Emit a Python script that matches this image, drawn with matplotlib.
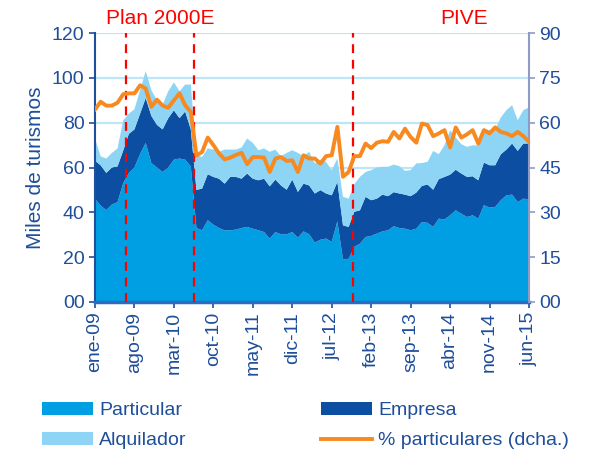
import numpy as np
import matplotlib
matplotlib.use("Agg")
import matplotlib.pyplot as plt
from matplotlib.patches import Patch
from matplotlib.lines import Line2D
import matplotlib.transforms as mtransforms

plt.rcParams['font.family'] = ['Liberation Sans', 'DejaVu Sans']

tick_labels = ['ene-09', 'ago-09', 'mar-10', 'oct-10', 'may-11', 'dic-11',
               'jul-12', 'feb-13', 'sep-13', 'abr-14', 'nov-14', 'jun-15']

particular = [46, 43, 41, 43.5, 44.5, 53, 57.5, 60, 66, 71,
              62, 60, 58, 60, 63.5, 64, 63.5, 60.5, 33, 32,
              36.5, 34.5, 33, 32, 32, 32.3, 33, 33.5, 32.7, 32,
              31.2, 28.3, 31.2, 30.2, 30.2, 31.2, 28.7, 31.5, 30.2, 26.5,
              27.8, 28.3, 26.8, 36, 19, 19.3, 24.6, 26, 29, 29.5,
              30.5, 31.5, 32, 33.8, 33, 32.7, 32, 32.7, 35.7, 35.3,
              33.5, 37.2, 36.8, 38.7, 40.9, 39.4, 37.9, 38.7, 37.2, 43.2,
              42.1, 42.4, 45.4, 47.6, 47.9, 44.6, 46.1, 45.8]

empresa = [17, 18, 16.6, 16.5, 16, 14.5, 17.5, 17, 18, 20,
           21, 19, 19, 22, 22, 18, 21.5, 16.5, 17, 18.6,
           20.5, 21.3, 22, 20.8, 23.8, 23.5, 22, 23.8, 22.3, 22.3,
           23.8, 23.3, 23.4, 21.8, 19.9, 23.4, 20.4, 21.3, 21.8, 21.9,
           22.1, 20.1, 20.8, 17.6, 15.2, 14.2, 15.6, 14.9, 17.9, 15.9,
           15.6, 16.4, 15.2, 15.2, 15.4, 15.2, 15.2, 16.1, 16.1, 17.1,
           16.6, 17.6, 19, 18.1, 18.1, 17.9, 17.9, 17.4, 17.1, 19,
           18.9, 18.6, 20.5, 20.4, 22.8, 22.8, 24.6, 24.9]

alquilador = [10, 4, 6.4, 6.5, 8, 13.5, 9, 9, 10.5, 12,
              11.5, 11, 11, 12, 12.5, 12, 12, 20, 15.5, 14.1,
              11.5, 12.2, 12, 15.2, 12.2, 12.2, 13.9, 15.6, 16, 13.4,
              13.5, 15.4, 13.4, 13, 16.4, 13.1, 17.4, 12.2, 15, 13.4,
              13.6, 14.1, 11.2, 10.4, 12.7, 12.6, 12.3, 14.9, 11.1, 13.4,
              13.9, 12.4, 13.1, 12.3, 12.2, 10.6, 11.6, 13, 10.2, 10.1,
              17.3, 11.1, 14.1, 19.8, 14.4, 13.1, 13.4, 13.8, 15.6, 15.2,
              15.6, 15.9, 16.4, 17.6, 17.1, 13.7, 14.9, 16.1]

pct_particulares = [64.4, 67, 65.7, 65.7, 66.7, 69.5, 69.8, 69.8, 72.5, 71.4,
                    65.3, 67.7, 65.7, 65, 67.5, 69.8, 65.8, 63.6, 49, 50.2,
                    55, 52.5, 49.7, 47.7, 48.3, 49.2, 49.9, 46.1, 48.5, 48.5,
                    48.3, 43.5, 48, 48.5, 47.2, 47.4, 43.5, 49.1, 48, 48,
                    46.3, 48.8, 49.1, 58.6, 41.9, 43.5, 48.8, 48.8, 53, 51.5,
                    53.3, 53.8, 53.6, 56.9, 54.7, 58, 55.2, 53.3, 59.7, 59.2,
                    55.5, 56.4, 57.5, 51.7, 58.4, 55, 56.1, 57.5, 53, 57.5,
                    56.4, 58.4, 56.9, 56.4, 55.5, 56.9, 55.5, 53.6]

plan_lines = [5.5, 17.5, 45.7]

c_part = '#009FE3'
c_emp = '#0B4EA2'
c_alq = '#8ED4F4'
c_orange = '#F7891F'
c_text = '#1F4E9A'
c_grid = '#BFE6F8'
c_red = '#FF0000'

x = np.arange(len(particular))

fig = plt.figure(figsize=(5.91, 4.53), dpi=100)
ax = fig.add_axes([95/591, 1 - 302/453, (529 - 95)/591, (302 - 33)/453])

ax.set_axisbelow(True)
ax.yaxis.grid(True, color=c_grid, lw=1.6)
ax.stackplot(x, particular, empresa, alquilador,
             colors=[c_part, c_emp, c_alq], lw=0, zorder=2)

for xl in plan_lines:
    ax.axvline(xl, color=c_red, lw=1.6, ls=(0, (4, 3)), zorder=3)

ax.set_xlim(0, len(x) - 1)
ax.set_ylim(0, 120)
ax.set_yticks(np.arange(0, 121, 20))
ax.set_yticklabels(['00', '20', '40', '60', '80', '100', '120'])
ax.set_xticks(np.arange(0, len(x), 7))
ax.set_xticklabels(tick_labels, rotation=90)
ax.tick_params(axis='both', colors=c_text, labelsize=14, length=4, width=1.2)
ax.tick_params(axis='x', pad=3)
for lab in ax.get_xticklabels() + ax.get_yticklabels():
    lab.set_color(c_text)
ax.set_ylabel('Miles de turismos', color=c_text, fontsize=15, labelpad=5)

for s in ['top', 'right']:
    ax.spines[s].set_visible(False)
ax.spines['left'].set_color(c_text)
ax.spines['left'].set_linewidth(1.5)
ax.spines['bottom'].set_color('#2A6CC0')
ax.spines['bottom'].set_linewidth(2.5)

ax2 = ax.twinx()
ax2.plot(x, pct_particulares, color=c_orange, lw=2.8, zorder=5)
ax2.set_ylim(0, 90)
ax2.set_yticks(np.arange(0, 91, 15))
ax2.set_yticklabels(['00', '15', '30', '45', '60', '75', '90'])
ax2.tick_params(axis='y', colors='#8E9BC6', labelsize=14, length=4, width=1.2)
for lab in ax2.get_yticklabels():
    lab.set_color(c_text)
for s in ['top', 'left', 'bottom']:
    ax2.spines[s].set_visible(False)
ax2.spines['right'].set_color('#8E9BC6')
ax2.spines['right'].set_linewidth(1.5)

trans = mtransforms.blended_transform_factory(ax.transData, ax.transAxes)
ax.text(11.6, 1.054, 'Plan 2000E', color=c_red, fontsize=15,
        ha='center', va='center', transform=trans)
ax.text(65.5, 1.054, 'PIVE', color=c_red, fontsize=15,
        ha='center', va='center', transform=trans)

handles = [Patch(facecolor=c_part, edgecolor='none'),
           Patch(facecolor=c_alq, edgecolor='none'),
           Patch(facecolor=c_emp, edgecolor='none'),
           Line2D([0], [0], color=c_orange, lw=2.8)]
labels = ['Particular', 'Alquilador', 'Empresa', '% particulares (dcha.)']
leg = fig.legend(handles, labels, ncol=2, loc='upper left',
                 bbox_to_anchor=(42/591, 1 - 402/453), frameon=False,
                 fontsize=14, handlelength=2.6, handleheight=0.65,
                 handletextpad=0.35, columnspacing=6.9, labelspacing=0.65,
                 borderpad=0, borderaxespad=0)
for t in leg.get_texts():
    t.set_color(c_text)

fig.savefig('out.png', dpi=100)
